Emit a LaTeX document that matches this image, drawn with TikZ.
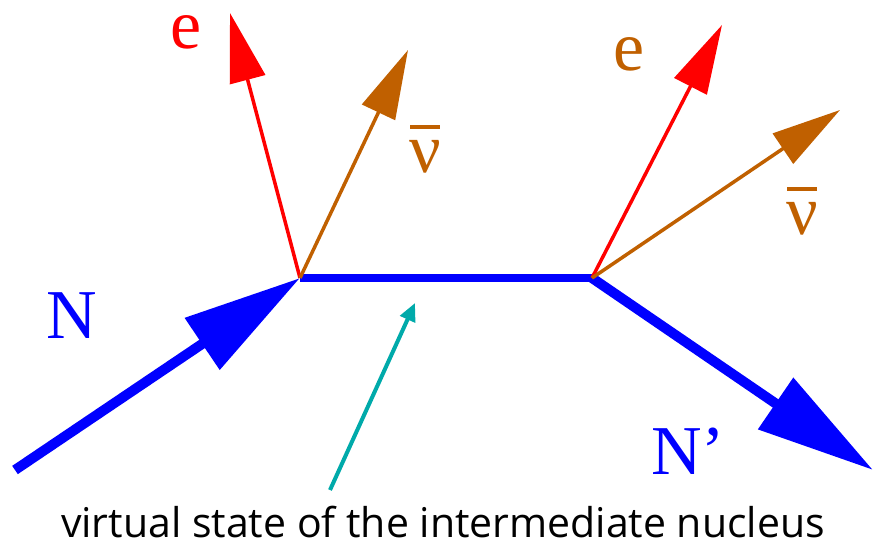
\documentclass[tikz,border=0pt]{standalone}
\usepackage{fontspec}
\setmainfont{Liberation Serif}
\newfontfamily\captionfont{Open Sans}
\usetikzlibrary{arrows.meta}
\definecolor{nblue}{RGB}{0,0,255}
\definecolor{ered}{RGB}{255,0,0}
\definecolor{nubrown}{RGB}{192,96,0}
\definecolor{pointteal}{RGB}{0,170,170}
\newcommand{\nubar}{\ooalign{ν\cr\hidewidth\raisebox{0.62em}{\rule{0.42em}{0.055em}}\hidewidth\cr}}
\tikzset{
  nucleon/.style={draw=nblue, line width=10pt, -{Triangle[length=118pt,width=60pt]}},
  electron/.style={draw=ered, line width=3.5pt, -{Triangle[length=69pt,width=36pt]}},
  antinu/.style={draw=nubrown, line width=3.5pt, -{Triangle[length=69pt,width=36pt]}},
  pointer/.style={draw=pointteal, line width=4pt, -{Triangle[length=18pt,width=16pt]}},
  biglabel/.style={inner sep=0pt, font=\fontsize{70}{70}\selectfont},
}
\begin{document}
\begin{tikzpicture}[x=1pt,y=-1pt]
\useasboundingbox (0,0) rectangle (875,546);
% vertices and free ends
\coordinate (v1) at (300,278);
\coordinate (v2) at (592,278);
\coordinate (nin) at (15,470);
\coordinate (nout) at (873,470);
\coordinate (e1) at (230,13);
\coordinate (nu1) at (408,50);
\coordinate (e2) at (722,25);
\coordinate (nu2) at (840,110);
\coordinate (pstart) at (330,490);
\coordinate (ptip) at (415,303);
% lines
\draw[draw=nblue, line width=8pt] (v1) -- (v2);
\draw[nucleon] (nin) -- (v1);
\draw[nucleon] (v2) -- (nout);
\draw[electron] (v1) -- (e1);
\draw[antinu] (v1) -- (nu1);
\draw[electron] (v2) -- (e2);
\draw[antinu] (v2) -- (nu2);
\draw[pointer] (pstart) -- (ptip);
% labels
\node[biglabel, text=nblue] (lN) at (72,316) {N};
\node[biglabel, text=nblue] (lNp) at (688,451) {N’};
\node[biglabel, text=ered] (le1) at (186,32) {e};
\node[biglabel, text=nubrown] (lnu1) at (425,156) {\nubar};
\node[biglabel, text=nubrown] (le2) at (629,54) {e};
\node[biglabel, text=nubrown] (lnu2) at (802,218) {\nubar};
\node[inner sep=0pt, font=\captionfont\fontsize{41}{41}\selectfont] (cap) at (443,522) {virtual state of the intermediate nucleus};
\end{tikzpicture}
\end{document}
